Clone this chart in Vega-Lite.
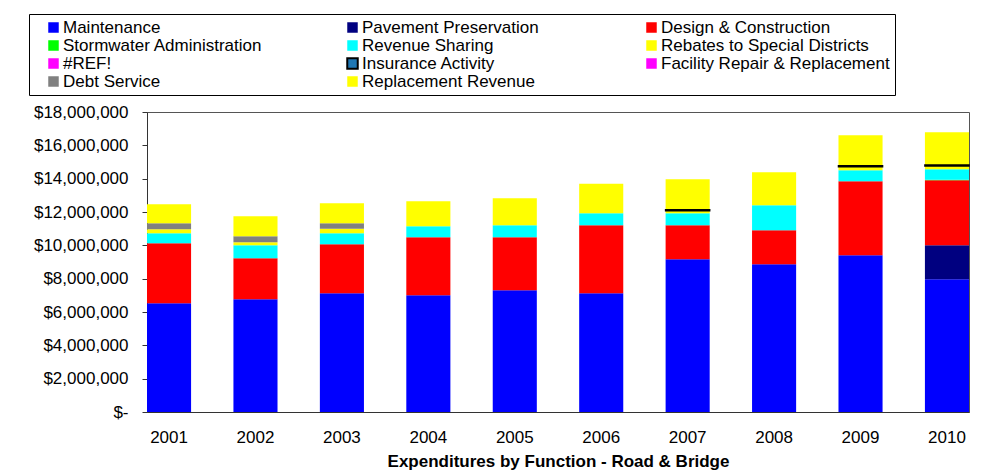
{
  "$schema": "https://vega.github.io/schema/vega-lite/v6.json",
  "width": 822,
  "height": 300,
  "autosize": {"type": "none"},
  "padding": {"left": 147, "top": 112, "right": 23, "bottom": 61},
  "background": "white",
  "config": {
    "view": {"stroke": "#555", "strokeWidth": 1},
    "font": "Liberation Sans"
  },
  "data": {
    "values": [
      {"year": "2001", "cat": "Maintenance", "amount": 6520000},
      {"year": "2001", "cat": "Design & Construction", "amount": 3600000},
      {"year": "2001", "cat": "Revenue Sharing", "amount": 600000},
      {"year": "2001", "cat": "Rebates to Special Districts", "amount": 240000},
      {"year": "2001", "cat": "Debt Service", "amount": 360000},
      {"year": "2001", "cat": "Replacement Revenue", "amount": 1140000},
      {"year": "2002", "cat": "Maintenance", "amount": 6760000},
      {"year": "2002", "cat": "Design & Construction", "amount": 2460000},
      {"year": "2002", "cat": "Revenue Sharing", "amount": 780000},
      {"year": "2002", "cat": "Rebates to Special Districts", "amount": 180000},
      {"year": "2002", "cat": "Debt Service", "amount": 360000},
      {"year": "2002", "cat": "Replacement Revenue", "amount": 1200000},
      {"year": "2003", "cat": "Maintenance", "amount": 7120000},
      {"year": "2003", "cat": "Design & Construction", "amount": 2940000},
      {"year": "2003", "cat": "Revenue Sharing", "amount": 660000},
      {"year": "2003", "cat": "Rebates to Special Districts", "amount": 280000},
      {"year": "2003", "cat": "Debt Service", "amount": 320000},
      {"year": "2003", "cat": "Replacement Revenue", "amount": 1200000},
      {"year": "2004", "cat": "Maintenance", "amount": 7000000},
      {"year": "2004", "cat": "Design & Construction", "amount": 3480000},
      {"year": "2004", "cat": "Revenue Sharing", "amount": 660000},
      {"year": "2004", "cat": "Replacement Revenue", "amount": 1500000},
      {"year": "2005", "cat": "Maintenance", "amount": 7300000},
      {"year": "2005", "cat": "Design & Construction", "amount": 3180000},
      {"year": "2005", "cat": "Revenue Sharing", "amount": 720000},
      {"year": "2005", "cat": "Replacement Revenue", "amount": 1620000},
      {"year": "2006", "cat": "Maintenance", "amount": 7120000},
      {"year": "2006", "cat": "Design & Construction", "amount": 4080000},
      {"year": "2006", "cat": "Revenue Sharing", "amount": 720000},
      {"year": "2006", "cat": "Replacement Revenue", "amount": 1780000},
      {"year": "2007", "cat": "Maintenance", "amount": 9160000},
      {"year": "2007", "cat": "Design & Construction", "amount": 2040000},
      {"year": "2007", "cat": "Revenue Sharing", "amount": 720000},
      {"year": "2007", "cat": "Rebates to Special Districts", "amount": 160000},
      {"year": "2007", "cat": "Insurance Activity", "amount": 60000},
      {"year": "2007", "cat": "Replacement Revenue", "amount": 1820000},
      {"year": "2008", "cat": "Maintenance", "amount": 8860000},
      {"year": "2008", "cat": "Design & Construction", "amount": 2040000},
      {"year": "2008", "cat": "Revenue Sharing", "amount": 1500000},
      {"year": "2008", "cat": "Replacement Revenue", "amount": 1980000},
      {"year": "2009", "cat": "Maintenance", "amount": 9400000},
      {"year": "2009", "cat": "Design & Construction", "amount": 4440000},
      {"year": "2009", "cat": "Revenue Sharing", "amount": 660000},
      {"year": "2009", "cat": "Rebates to Special Districts", "amount": 220000},
      {"year": "2009", "cat": "Insurance Activity", "amount": 60000},
      {"year": "2009", "cat": "Replacement Revenue", "amount": 1820000},
      {"year": "2010", "cat": "Maintenance", "amount": 7960000},
      {"year": "2010", "cat": "Pavement Preservation", "amount": 2040000},
      {"year": "2010", "cat": "Design & Construction", "amount": 3900000},
      {"year": "2010", "cat": "Stormwater Administration", "amount": 30000},
      {"year": "2010", "cat": "Revenue Sharing", "amount": 630000},
      {"year": "2010", "cat": "Rebates to Special Districts", "amount": 200000},
      {"year": "2010", "cat": "Insurance Activity", "amount": 60000},
      {"year": "2010", "cat": "Replacement Revenue", "amount": 1960000}
    ]
  },
  "transform": [
    {"calculate": "indexof(['Maintenance', 'Pavement Preservation', 'Design & Construction', 'Stormwater Administration', 'Revenue Sharing', 'Rebates to Special Districts', '#REF!', 'Insurance Activity', 'Facility Repair & Replacement', 'Debt Service', 'Replacement Revenue'], datum.cat)", "as": "ord"}
  ],
  "encoding": {
    "x": {
      "field": "year",
      "type": "ordinal",
      "scale": {"paddingInner": 0.49, "paddingOuter": 0},
      "axis": {
        "title": "Expenditures by Function - Road & Bridge",
        "titleFont": "Liberation Sans",
        "titleFontSize": 17,
        "titleFontWeight": "bold",
        "titleColor": "black",
        "titlePadding": 8,
        "labelAngle": 0,
        "labelFontSize": 17,
        "labelColor": "black",
        "labelPadding": 17,
        "ticks": false,
        "domainColor": "#333",
        "grid": false
      }
    },
    "y": {
      "field": "amount",
      "type": "quantitative",
      "stack": "zero",
      "scale": {"domain": [0, 18000000], "nice": false},
      "axis": {
        "title": null,
        "values": [0, 2000000, 4000000, 6000000, 8000000, 10000000, 12000000, 14000000, 16000000, 18000000],
        "labelExpr": "datum.value == 0 ? '$-' : '$' + format(datum.value, ',.0f')",
        "labelFontSize": 17,
        "labelColor": "black",
        "labelPadding": 14,
        "tickSize": 5,
        "tickColor": "#333",
        "domainColor": "#333",
        "grid": false
      }
    },
    "order": {"field": "ord", "type": "quantitative"}
  },
  "layer": [
    {
      "mark": {"type": "bar", "strokeWidth": 0},
      "encoding": {
        "color": {
          "field": "cat",
          "type": "nominal",
          "scale": {
            "domain": ["Maintenance", "Pavement Preservation", "Design & Construction", "Stormwater Administration", "Revenue Sharing", "Rebates to Special Districts", "#REF!", "Insurance Activity", "Facility Repair & Replacement", "Debt Service", "Replacement Revenue"],
            "range": ["#0000FF", "#000080", "#FF0000", "#00FF00", "#00FFFF", "#FFFF00", "#FF00FF", "#1F77B4", "#FF00FF", "#808080", "#FFFF00"]
          },
          "legend": {
            "title": null,
            "orient": "none",
            "legendX": -118,
            "legendY": -98,
            "direction": "horizontal",
            "columns": 3,
            "gridAlign": "all",
            "columnPadding": 41,
            "rowPadding": 0,
            "clipHeight": 17,
            "padding": 5,
            "symbolOffset": 11,
            "strokeColor": "black",
            "symbolType": "square",
            "symbolSize": 110,
            "labelFontSize": 17,
            "labelColor": "black",
            "labelOffset": 1,
            "labelLimit": 400,
            "encode": {
              "symbols": {
                "update": {
                  "stroke": {"signal": "datum.label == 'Insurance Activity' ? 'black' : 'transparent'"},
                  "strokeWidth": {"signal": "datum.label == 'Insurance Activity' ? 2 : 0"}
                }
              }
            }
          }
        }
      }
    },
    {
      "mark": {"type": "bar", "fillOpacity": 0, "strokeWidth": 1.5},
      "encoding": {
        "detail": {"field": "cat", "type": "nominal"},
        "stroke": {
          "condition": {"test": "datum.cat == 'Insurance Activity'", "value": "black"},
          "value": "transparent"
        }
      }
    }
  ]
}
